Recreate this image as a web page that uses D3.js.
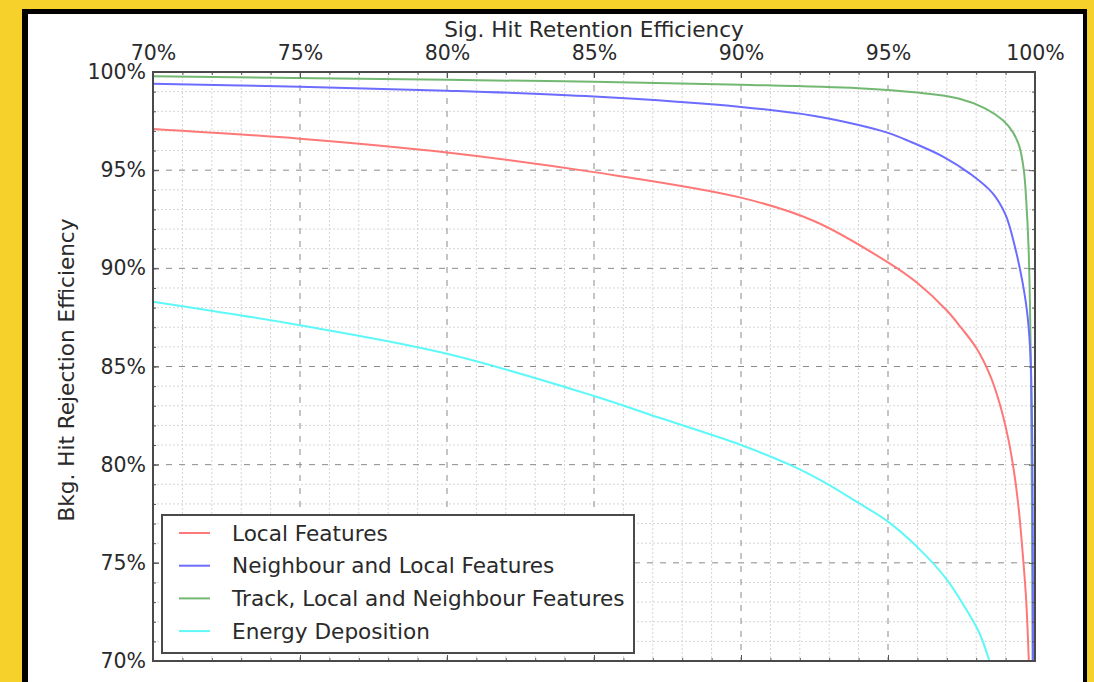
<!DOCTYPE html>
<html>
<head>
<meta charset="utf-8">
<script src="https://cdn.jsdelivr.net/npm/d3@7"></script>
<style>
  html, body { margin: 0; padding: 0; background: #f6d12b; }
  svg { display: block; }
  text { font-family: "DejaVu Sans", sans-serif; fill: #2a2a2a; }
</style>
</head>
<body>
<svg id="chart" width="1094" height="682"></svg>
<script>
// Signal hit retention (%) vs background hit rejection (%) for each feature set
const localX  = [70, 75, 80, 85, 90, 92.5, 95, 96, 97, 97.5, 98, 98.5, 98.8, 99.1, 99.3, 99.45, 99.6, 99.7, 99.79];
const localY  = [97.1, 96.6, 95.9, 94.9, 93.6, 92.4, 90.3, 89.25, 87.85, 86.95, 85.95, 84.45, 83.1, 81.25, 79.5, 77.7, 75.15, 73.1, 70.0];

const neighX  = [70, 75, 80, 85, 90, 92.5, 94, 95, 95.7, 96.9, 97.8, 98.55, 99.0, 99.3, 99.58, 99.75, 99.86, 99.93];
const neighY  = [99.4, 99.25, 99.05, 98.75, 98.22, 97.76, 97.3, 96.9, 96.49, 95.67, 94.81, 93.84, 92.72, 91.2, 89.26, 87.53, 85.0, 70.0];

const trackX  = [70, 80, 85, 90, 94, 96, 97.4, 98.3, 98.9, 99.24, 99.47, 99.62, 99.7, 99.78, 99.86, 99.92];
const trackY  = [99.78, 99.6, 99.5, 99.35, 99.17, 98.95, 98.65, 98.15, 97.55, 96.95, 96.2, 95.0, 93.5, 91.1, 85.0, 70.0];

const energyX = [70, 75, 80, 85, 87.2, 90, 91.8, 92.9, 94.0, 95.0, 96.0, 97.0, 97.63, 98.1, 98.45];
const energyY = [88.3, 87.1, 85.65, 83.5, 82.4, 81.0, 79.9, 79.05, 78.05, 77.1, 75.8, 74.15, 72.7, 71.45, 70.0];

const seriesNames = ["Local Features", "Neighbour and Local Features",
                     "Track, Local and Neighbour Features", "Energy Deposition"];
const seriesColors = ["#ff7878", "#6c6cff", "#72b872", "#5ff8f8"];

const majorTicks = [70, 75, 80, 85, 90, 95, 100];
const minorTicks = d3.range(70, 101, 1);

const xTitle = "Sig. Hit Retention Efficiency";
const yTitle = "Bkg. Hit Rejection Efficiency";

const textSize = 21.6;
const tickTextSize = 20.5;

const svg = d3.select("#chart");

// outer frame
svg.append("rect").attr("x", 22).attr("y", 9).attr("width", 1065).attr("height", 700)
  .attr("fill", "#000");
svg.append("rect").attr("x", 28).attr("y", 14).attr("width", 1055).attr("height", 700)
  .attr("fill", "#fff");

const plotL = 153, plotR = 1035, plotT = 72, plotB = 661;
const x = d3.scaleLinear().domain([70, 100]).range([plotL, plotR]);
const y = d3.scaleLinear().domain([70, 100]).range([plotB, plotT]);

const g = svg.append("g");

// minor grid (dotted)
const minorOnly = minorTicks.filter(t => t % 5 !== 0);
g.append("g").selectAll("line").data(minorOnly).join("line")
  .attr("x1", d => x(d)).attr("x2", d => x(d)).attr("y1", plotT).attr("y2", plotB)
  .attr("stroke", "#d6d6d6").attr("stroke-width", 1).attr("stroke-dasharray", "2,2");
g.append("g").selectAll("line").data(minorOnly).join("line")
  .attr("y1", d => y(d)).attr("y2", d => y(d)).attr("x1", plotL).attr("x2", plotR)
  .attr("stroke", "#d6d6d6").attr("stroke-width", 1).attr("stroke-dasharray", "2,2");

// major grid (dashed)
const majorInner = majorTicks.slice(1, -1);
g.append("g").selectAll("line").data(majorInner).join("line")
  .attr("x1", d => x(d)).attr("x2", d => x(d)).attr("y1", plotT).attr("y2", plotB)
  .attr("stroke", "#8a8a8a").attr("stroke-width", 1).attr("stroke-dasharray", "6,7");
g.append("g").selectAll("line").data(majorInner).join("line")
  .attr("y1", d => y(d)).attr("y2", d => y(d)).attr("x1", plotL).attr("x2", plotR)
  .attr("stroke", "#8a8a8a").attr("stroke-width", 1).attr("stroke-dasharray", "6,7");

// curves
const line = d3.line().x(d => x(d[0])).y(d => y(d[1])).curve(d3.curveCatmullRom.alpha(0.5));
const seriesData = [
  d3.zip(localX, localY),
  d3.zip(neighX, neighY),
  d3.zip(trackX, trackY),
  d3.zip(energyX, energyY)
];
const drawOrder = [0, 2, 1, 3];
g.append("g").selectAll("path").data(drawOrder).join("path")
  .attr("d", i => line(seriesData[i]))
  .attr("fill", "none")
  .attr("stroke", i => seriesColors[i])
  .attr("stroke-width", 2);

// inward ticks on all four sides
const fmt = d => d + "%";
const axTop = d3.axisTop(x).tickValues(majorTicks).tickSize(-6).tickPadding(12).tickFormat(fmt);
const axTopMinor = d3.axisTop(x).tickValues(minorTicks).tickSize(-3).tickFormat("");
const axBottom = d3.axisBottom(x).tickValues(majorTicks).tickSize(-6).tickFormat("");
const axBottomMinor = d3.axisBottom(x).tickValues(minorTicks).tickSize(-3).tickFormat("");
const axLeft = d3.axisLeft(y).tickValues(majorTicks).tickSize(-6).tickPadding(7).tickFormat(fmt);
const axLeftMinor = d3.axisLeft(y).tickValues(minorTicks).tickSize(-3).tickFormat("");
const axRight = d3.axisRight(y).tickValues(majorTicks).tickSize(-6).tickFormat("");
const axRightMinor = d3.axisRight(y).tickValues(minorTicks).tickSize(-3).tickFormat("");

function styleAxis(sel) {
  sel.select(".domain").remove();
  sel.selectAll(".tick line").attr("stroke", "#555");
  sel.selectAll(".tick text").attr("font-size", tickTextSize).attr("fill", "#2a2a2a")
    .attr("font-family", "DejaVu Sans, sans-serif");
}
[[axTop, `translate(0,${plotT})`], [axTopMinor, `translate(0,${plotT})`],
 [axBottom, `translate(0,${plotB})`], [axBottomMinor, `translate(0,${plotB})`],
 [axLeft, `translate(${plotL},0)`], [axLeftMinor, `translate(${plotL},0)`],
 [axRight, `translate(${plotR},0)`], [axRightMinor, `translate(${plotR},0)`]]
  .forEach(([ax, tr]) => g.append("g").attr("transform", tr).call(ax).call(styleAxis));

// plot frame
g.append("rect").attr("x", plotL).attr("y", plotT)
  .attr("width", plotR - plotL).attr("height", plotB - plotT)
  .attr("fill", "none").attr("stroke", "#4a4a4a").attr("stroke-width", 2);

// axis titles
svg.append("text").attr("x", 594).attr("y", 37)
  .attr("text-anchor", "middle").attr("font-size", textSize).text(xTitle);
svg.append("text").attr("transform", `translate(74,370) rotate(-90)`)
  .attr("text-anchor", "middle").attr("font-size", textSize).text(yTitle);

// legend
const legend = svg.append("g").attr("transform", "translate(162,515)");
legend.append("rect").attr("width", 472).attr("height", 138)
  .attr("fill", "#fff").attr("stroke", "#4a4a4a").attr("stroke-width", 2);
const rows = legend.selectAll("g.row").data(seriesNames).join("g")
  .attr("class", "row")
  .attr("transform", (d, i) => `translate(0,${18 + i * 32.7})`);
rows.append("line").attr("x1", 17).attr("x2", 48)
  .attr("stroke", (d, i) => seriesColors[i]).attr("stroke-width", 2);
rows.append("text").attr("x", 70).attr("dy", "0.35em").attr("font-size", textSize).text(d => d);
</script>
</body>
</html>
